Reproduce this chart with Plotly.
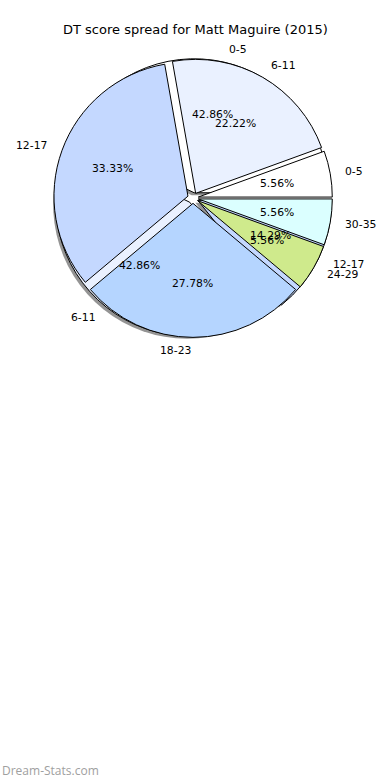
import math
import plotly.graph_objects as go

W, H = 390, 780

title_text = "DT score spread for Matt Maguire (2015)"
watermark = "Dream-Stats.com"

# Outer (front) pie
labels_front = ["0-5", "6-11", "12-17", "18-23", "24-29", "30-35"]
values_front = [1, 4, 6, 5, 1, 1]
colors_front = ["#ffffff", "#eaf1ff", "#c4d8ff", "#b5d5ff", "#cfea8c", "#dbffff"]

# Back pie
labels_back = ["0-5", "6-11", "12-17"]
values_back = [3, 3, 1]
colors_back = ["#ffffff", "#eaf1ff", "#c4d8ff"]

# Geometry (pixels)
CX, CY = 193, 198
R = 134
PULL = 0.04
HALF = R * (1 + PULL)


def domain(dx=0, dy=0):
    cx, cy = CX + dx, CY + dy
    return dict(x=[(cx - HALF) / W, (cx + HALF) / W],
                y=[1 - (cy + HALF) / H, 1 - (cy - HALF) / H])


def start_rotation(values):
    # plotly's counterclockwise pies end the first slice at `rotation`;
    # shift so the first slice starts at 3 o'clock like matplotlib
    return 90 - 360.0 * values[0] / sum(values)


fig = go.Figure()

# shadow of back pie
fig.add_trace(go.Pie(
    labels=labels_back, values=values_back, sort=False,
    direction="counterclockwise", rotation=start_rotation(values_back),
    pull=[PULL] * len(values_back),
    marker=dict(colors=["rgba(60,60,60,0.55)"] * len(values_back), line=dict(width=0)),
    textinfo="none", hoverinfo="skip", showlegend=False,
    domain=domain(-2.5, 2.5),
))

# back pie
fig.add_trace(go.Pie(
    labels=labels_back, values=values_back, sort=False,
    direction="counterclockwise", rotation=start_rotation(values_back),
    pull=[PULL] * len(values_back),
    marker=dict(colors=colors_back, line=dict(color="black", width=1)),
    textinfo="none", hoverinfo="label+percent", showlegend=False,
    domain=domain(),
))

# front pie
fig.add_trace(go.Pie(
    labels=labels_front, values=values_front, sort=False,
    direction="counterclockwise", rotation=start_rotation(values_front),
    pull=[PULL] * len(values_front),
    marker=dict(colors=colors_front, line=dict(color="black", width=1)),
    textinfo="none", hoverinfo="label+percent", showlegend=False,
    domain=domain(),
))

annotations = []
FONT = "DejaVu Sans"


def add_text(labels, values):
    total = float(sum(values))
    cum = 0.0
    for lab, v in zip(labels, values):
        mid = math.radians(360.0 * (cum + v / 2.0) / total)
        cum += v
        c, s = math.cos(mid), math.sin(mid)
        # outer label
        d = R * (PULL + 1.1)
        lx, ly = CX + d * c, CY - d * s
        annotations.append(dict(
            x=lx / W, y=1 - ly / H, xref="paper", yref="paper",
            text=lab, showarrow=False,
            xanchor="left" if c > 0 else "right", yanchor="middle",
            font=dict(family=FONT, size=10.8, color="black")))
        # percentage
        d = R * (PULL + 0.6)
        px, py = CX + d * c, CY - d * s
        annotations.append(dict(
            x=px / W, y=1 - py / H, xref="paper", yref="paper",
            text="%.2f%%" % (100.0 * v / total), showarrow=False,
            xanchor="center", yanchor="middle",
            font=dict(family=FONT, size=10.8, color="black")))


add_text(labels_back, values_back)
add_text(labels_front, values_front)

annotations.append(dict(
    x=0.5, y=1 - 30 / H, xref="paper", yref="paper", text=title_text,
    showarrow=False, xanchor="center", yanchor="middle",
    font=dict(family=FONT, size=13, color="black")))
annotations.append(dict(
    x=0, y=1 - 770 / H, xref="paper", yref="paper", text=watermark,
    showarrow=False, xanchor="left", yanchor="middle",
    font=dict(family="Open Sans", size=12, color="#a0a0a0")))

fig.update_layout(
    width=W, height=H,
    margin=dict(l=0, r=0, t=0, b=0),
    paper_bgcolor="white", plot_bgcolor="white",
    annotations=annotations,
    showlegend=False,
)

fig.write_html(
    "out.html",
    config={"displayModeBar": False},
    post_script="document.body.style.margin='0';document.body.style.overflow='hidden';",
)
